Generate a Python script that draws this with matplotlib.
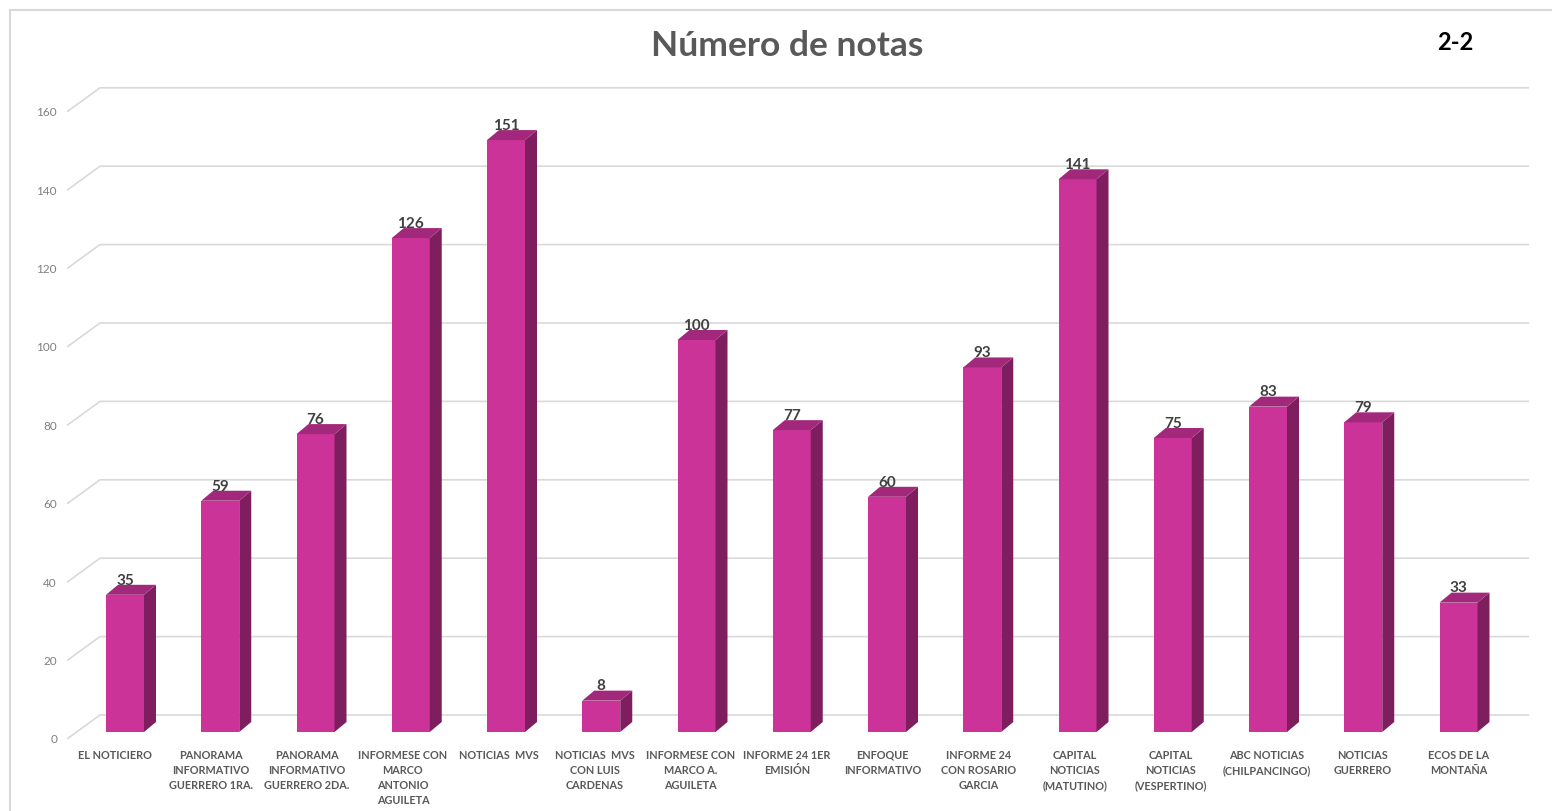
import matplotlib.pyplot as plt
from matplotlib.patches import Polygon, Rectangle
from matplotlib.lines import Line2D

programas = [
    "EL NOTICIERO",
    "PANORAMA\nINFORMATIVO\nGUERRERO 1RA.",
    "PANORAMA\nINFORMATIVO\nGUERRERO 2DA.",
    "INFORMESE CON\nMARCO\nANTONIO\nAGUILETA",
    "NOTICIAS  MVS",
    "NOTICIAS  MVS\nCON LUIS\nCARDENAS",
    "INFORMESE CON\nMARCO A.\nAGUILETA",
    "INFORME 24 1ER\nEMISIÓN",
    "ENFOQUE\nINFORMATIVO",
    "INFORME 24\nCON ROSARIO\nGARCIA",
    "CAPITAL\nNOTICIAS\n(MATUTINO)",
    "CAPITAL\nNOTICIAS\n(VESPERTINO)",
    "ABC NOTICIAS\n(CHILPANCINGO)",
    "NOTICIAS\nGUERRERO",
    "ECOS DE LA\nMONTAÑA",
]
notas = [35, 59, 76, 126, 151, 8, 100, 77, 60, 93, 141, 75, 83, 79, 33]
ticks = [0, 20, 40, 60, 80, 100, 120, 140, 160]

W, H = 1552, 812
# pixel calibration of the original chart
STEP = 95.25      # px between categories
X0 = 125          # px of first bar centre
PPU = 3.92        # px per value unit
Y0 = 733          # px of value 0 on the front plane

FRONT = "#CC3399"
SIDE = "#7E1E5E"
TOP = "#A2287B"

fig = plt.figure(figsize=(W / 100, H / 100), dpi=100)
ax = fig.add_axes([0, 0, 1, 1])
ax.set_xlim(-X0 / STEP, (W - X0) / STEP)
ax.set_ylim((Y0 - H) / PPU, Y0 / PPU)
ax.axis("off")

half = 19 / STEP
dx, dy = 12 / STEP, 10 / PPU
back_dy = 17 / PPU
lab_dy = 7 / PPU
gx0, gx1 = (100 - X0) / STEP, (1529 - X0) / STEP
sx0 = (67 - X0) / STEP
n = len(notas)

# gridlines on the back wall + slanted floor edge
for t in ticks:
    ax.plot([sx0, gx0, gx1], [t - lab_dy, t + back_dy, t + back_dy],
            color="#D9D9D9", lw=1.2, zorder=1, solid_capstyle="butt")
    ax.text((57 - X0) / STEP, t - lab_dy, str(t), ha="right", va="center",
            fontsize=8.5, color="#7F7F7F", family="Lato")

for i, (nombre, v) in enumerate(zip(programas, notas)):
    l, r = i - half, i + half
    ax.add_patch(Rectangle((l, 0), 2 * half, v, facecolor=FRONT,
                           edgecolor="none", zorder=3))
    ax.add_patch(Polygon([(r, 0), (r + dx, dy), (r + dx, v + dy), (r, v)],
                         closed=True, facecolor=SIDE, edgecolor="none", zorder=3))
    ax.add_patch(Polygon([(l, v), (r, v), (r + dx, v + dy), (l + dx, v + dy)],
                         closed=True, facecolor=TOP, edgecolor="none", zorder=3))
    ax.text(i, v + dy + 0.3, str(v), ha="center", va="baseline", fontsize=11,
            fontweight="bold", color="#404040", family="Lato", zorder=4)
    # labels sit slightly left, more so on the left side (perspective)
    shift = -10 / STEP * (1 - i / (n - 1))
    ax.text(i + shift, -17 / PPU, nombre, ha="center", va="top", fontsize=7.8,
            fontweight="bold", color="#595959", family="Lato", linespacing=1.45)

fig.text(787 / W, 1 - 46 / H, "Número de notas", ha="center", va="center",
         fontsize=25.5, fontweight="bold", color="#595959", family="Lato")
fig.text(1455 / W, 1 - 42 / H, "2-2", ha="center", va="center",
         fontsize=17, fontweight="bold", color="black", family="Lato")

# chart border (left and top visible)
fig.add_artist(Line2D([10 / W, 10 / W], [0, 1 - 11 / H], color="#D9D9D9",
                      lw=1.5, transform=fig.transFigure))
fig.add_artist(Line2D([10 / W, 1], [1 - 11 / H, 1 - 11 / H], color="#D9D9D9",
                      lw=1.5, transform=fig.transFigure))

fig.savefig("out.png", dpi=100)
